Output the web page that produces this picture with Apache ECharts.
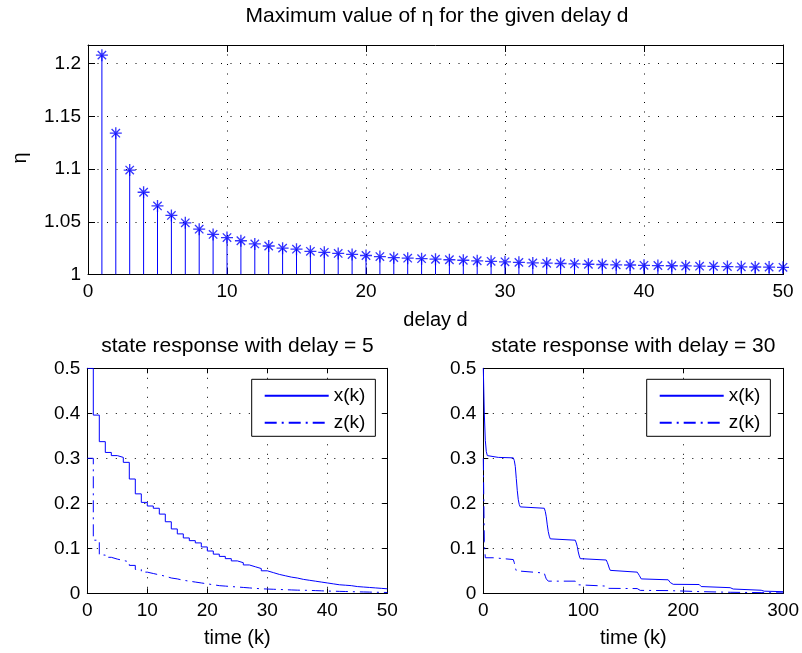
<!DOCTYPE html>
<html><head><meta charset="utf-8">
<script src="https://cdn.jsdelivr.net/npm/echarts@6/dist/echarts.min.js"></script>
<style>html,body{margin:0;padding:0;background:#fff}#c{width:802px;height:653px}</style>
</head><body><div id="c"></div>
<script>
// ---------- DATA ----------
const delays = [1,2,3,4,5,6,7,8,9,10,11,12,13,14,15,16,17,18,19,20,21,22,23,24,25,26,27,28,29,30,31,32,33,34,35,36,37,38,39,40,41,42,43,44,45,46,47,48,49,50];
const etaMax = [1.208,1.134,1.099,1.078,1.065,1.056,1.049,1.043,1.038,1.035,1.032,1.029,1.027,1.025,1.024,1.022,1.021,1.020,1.019,1.018,1.017,1.016,1.0155,1.015,1.0145,1.014,1.0135,1.013,1.0125,1.012,1.0115,1.011,1.0107,1.0104,1.010,1.0097,1.0095,1.0092,1.009,1.0087,1.0085,1.0083,1.0081,1.0079,1.0077,1.0075,1.0073,1.0071,1.0070,1.0068];
const etaBase = 1;

const k5 = [0,1,2,3,4,5,6,7,8,9,10,11,12,13,14,15,16,17,18,19,20,21,22,23,24,25,26,27,28,29,30,31,32,33,34,35,36,37,38,39,40,41,42,43,44,45,46,47,48,49,50];
const x5 = [0.500,0.396,0.337,0.313,0.306,0.302,0.291,0.254,0.221,0.202,0.194,0.189,0.176,0.159,0.143,0.132,0.123,0.117,0.112,0.103,0.094,0.087,0.082,0.077,0.072,0.068,0.063,0.059,0.055,0.050,0.046,0.042,0.039,0.036,0.034,0.031,0.029,0.027,0.025,0.023,0.021,0.019,0.018,0.017,0.015,0.014,0.013,0.012,0.011,0.010,0.0095];
const z5 = [0.300,0.118,0.085,0.080,0.076,0.073,0.070,0.062,0.053,0.047,0.044,0.041,0.038,0.034,0.032,0.029,0.027,0.025,0.023,0.021,0.019,0.017,0.016,0.015,0.014,0.013,0.012,0.011,0.010,0.0095,0.009,0.0085,0.008,0.0075,0.007,0.0068,0.0065,0.006,0.0055,0.005,0.0047,0.0043,0.004,0.0036,0.0033,0.003,0.0027,0.0024,0.0021,0.0018,0.0015];

// delay = 30 : values at the time steps where the held value changes
const kX30 = [0,1,2,3,4,5,6,15,30,31,32,33,34,35,36,37,38,61,62,63,64,65,66,67,68,92,93,94,95,96,97,98,123,124,125,126,127,128,129,154,155,156,157,158,159,185,186,187,188,189,190,216,217,218,219,220,247,248,249,250,251,252,278,279,280,281,282,300];
const x30 = [0.500,0.400,0.340,0.315,0.306,0.303,0.302,0.301,0.300,0.295,0.282,0.255,0.228,0.208,0.197,0.192,0.189,0.187,0.182,0.170,0.152,0.137,0.127,0.121,0.118,0.116,0.112,0.104,0.092,0.083,0.077,0.074,0.0725,0.069,0.063,0.056,0.051,0.048,0.047,0.0465,0.044,0.040,0.036,0.032,0.030,0.0293,0.027,0.024,0.022,0.020,0.0195,0.019,0.017,0.015,0.0135,0.0125,0.012,0.0105,0.0095,0.0082,0.0072,0.0068,0.0066,0.0058,0.0047,0.0040,0.0036,0.0035];
const kZ30 = [0,1,2,10,20,30,31,32,33,34,35,61,62,63,64,65,92,93,94,95,96,123,124,125,126,154,155,156,157,185,186,187,216,217,218,247,248,249,278,279,280,300];
const z30 = [0.300,0.115,0.079,0.077,0.075,0.074,0.068,0.057,0.050,0.046,0.045,0.043,0.038,0.032,0.029,0.027,0.026,0.023,0.019,0.017,0.016,0.0155,0.013,0.011,0.0105,0.010,0.008,0.0065,0.006,0.0058,0.0045,0.0038,0.0036,0.0028,0.0023,0.0022,0.0017,0.0015,0.0014,0.0010,0.0008,0.0007];

const legendNames = ['x(k)', 'z(k)'];

// ---------- STYLE ----------
const FONT = 'Liberation Sans, Arial, Helvetica, sans-serif';
const BLUE = '#0000ff';
const TICK_FS = 19, LABEL_FS = 20, TITLE_FS = 21;
const ASTERISK = 'path://M0 44.5L100 44.5L100 55.5L0 55.5Z M44.5 0L55.5 0L55.5 100L44.5 100Z M18.9 11.1L88.9 81.1L81.1 88.9L11.1 18.9Z M88.9 18.9L18.9 88.9L11.1 81.1L81.1 11.1Z';

function zip(a, b) { return a.map((v, i) => [v, b[i]]); }

const grids = [
  {left: 88, top: 45, width: 695, height: 229.5},
  {left: 87.3, top: 368.3, width: 300, height: 225},
  {left: 483.3, top: 368.3, width: 300, height: 225}
];
const ranges = [
  {x: [0, 50, 10], y: [1, 1.2176, 0.05], tick: 7},
  {x: [0, 50, 10], y: [0, 0.5, 0.1], tick: 5},
  {x: [0, 300, 100], y: [0, 0.5, 0.1], tick: 5}
];

const grid = [], xAxis = [], yAxis = [];
const dotted = {color: '#000', type: [1, 8.5], width: 1};
ranges.forEach((r, g) => {
  grid.push(Object.assign({containLabel: false, show: false}, grids[g]));
  const common = (rng) => ({
    type: 'value', gridIndex: g, min: rng[0], max: rng[1], interval: rng[2],
    axisLine: {show: true, onZero: false, lineStyle: {color: '#000', width: 1}},
    axisTick: {show: true, inside: true, length: r.tick, lineStyle: {color: '#000'}},
    minorTick: {show: false}
  });
  xAxis.push(Object.assign(common(r.x), {
    position: 'bottom',
    axisLabel: {show: true, color: '#000', fontSize: TICK_FS, fontFamily: FONT, margin: 8},
    splitLine: {show: true, lineStyle: dotted}
  }));
  xAxis.push(Object.assign(common(r.x), {
    position: 'top', axisLabel: {show: false}, splitLine: {show: false}
  }));
  yAxis.push(Object.assign(common(r.y), {
    position: 'left',
    axisLabel: {show: true, color: '#000', fontSize: TICK_FS, fontFamily: FONT, margin: 7, showMaxLabel: g === 0 ? false : true},
    splitLine: {show: true, lineStyle: dotted}
  }));
  yAxis.push(Object.assign(common(r.y), {
    position: 'right', axisLabel: {show: false}, splitLine: {show: false}
  }));
});

const stemData = zip(delays, etaMax);

const series = [
  {
    type: 'custom', xAxisIndex: 0, yAxisIndex: 0, data: stemData,
    encode: {x: 0, y: 1}, clip: true,
    renderItem: (params, api) => {
      const p0 = api.coord([api.value(0), etaBase]);
      const p1 = api.coord([api.value(0), api.value(1)]);
      return {type: 'line', shape: {x1: p0[0], y1: p0[1], x2: p1[0], y2: p1[1]},
              style: {stroke: BLUE, lineWidth: 1}};
    }
  },
  {
    type: 'scatter', xAxisIndex: 0, yAxisIndex: 0, data: stemData,
    symbol: ASTERISK, symbolSize: 12, itemStyle: {color: BLUE}, z: 3
  },
  {
    name: legendNames[0], type: 'line', xAxisIndex: 2, yAxisIndex: 2, step: 'end',
    data: zip(k5, x5), symbol: 'none', lineStyle: {color: BLUE, width: 1}, itemStyle: {color: BLUE}
  },
  {
    name: legendNames[1], type: 'line', xAxisIndex: 2, yAxisIndex: 2, step: 'end',
    data: zip(k5, z5), symbol: 'none', lineStyle: {color: BLUE, width: 1, type: [12, 5, 2, 5]}, itemStyle: {color: BLUE}
  },
  {
    name: legendNames[0], type: 'line', xAxisIndex: 4, yAxisIndex: 4, step: 'end',
    data: zip(kX30, x30), symbol: 'none', lineStyle: {color: BLUE, width: 1}, itemStyle: {color: BLUE}
  },
  {
    name: legendNames[1], type: 'line', xAxisIndex: 4, yAxisIndex: 4, step: 'end',
    data: zip(kZ30, z30), symbol: 'none', lineStyle: {color: BLUE, width: 1, type: [12, 5, 2, 5]}, itemStyle: {color: BLUE}
  }
];

const legendBase = {
  orient: 'vertical', data: legendNames, selectedMode: false,
  itemWidth: 64, itemHeight: 14, itemGap: 8, padding: [7, 10, 4, 12],
  borderColor: '#000', borderWidth: 1, borderRadius: 0, backgroundColor: '#fff',
  itemStyle: {color: 'rgba(0,0,0,0)', borderColor: 'rgba(0,0,0,0)', borderWidth: 0},
  textStyle: {fontSize: TICK_FS, fontFamily: FONT, color: '#000'}
};
const legend = [
  Object.assign({left: 251.7, top: 379.3}, legendBase),
  Object.assign({left: 646.7, top: 379.3}, legendBase)
];

function txt(x, y, text, fs, rot) {
  return {type: 'text', x: x, y: y, rotation: rot || 0,
    style: {text: text, fill: '#000', font: fs + 'px ' + FONT, align: 'center', verticalAlign: 'middle'}};
}
const graphic = [
  txt(437, 16, 'Maximum value of η for the given delay d', TITLE_FS),
  txt(435.5, 320, 'delay d', LABEL_FS),
  txt(20, 158, 'η', LABEL_FS, Math.PI / 2),
  txt(237.5, 346, 'state response with delay = 5', TITLE_FS),
  txt(633.3, 346, 'state response with delay = 30', TITLE_FS),
  txt(237.3, 638, 'time (k)', LABEL_FS),
  txt(633.3, 638, 'time (k)', LABEL_FS)
];

const chart = echarts.init(document.getElementById('c'), null, {renderer: 'canvas'});
chart.setOption({
  animation: false, backgroundColor: '#fff',
  grid, xAxis, yAxis, series, legend, graphic
});
</script></body></html>
